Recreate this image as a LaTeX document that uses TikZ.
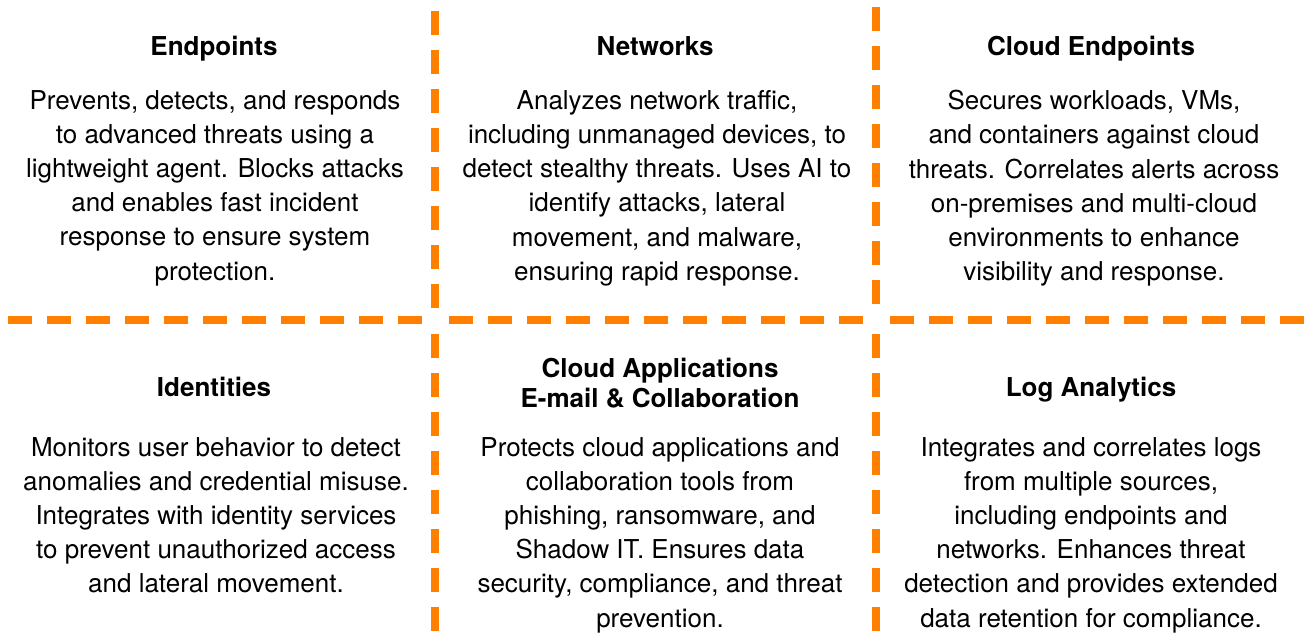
\documentclass[tikz,border=0pt]{standalone}
\usepackage{fontspec}
\setmainfont{TeX Gyre Heros}
\definecolor{divorange}{RGB}{255,127,0}
\tikzset{
  head/.style={font=\fontsize{26}{30}\selectfont\bfseries, align=center, anchor=base, inner sep=0pt},
  body/.style={font=\fontsize{26}{34.2}\selectfont, align=center, anchor=north, inner sep=0pt},
  divider/.style={draw=divorange, line width=8pt, dash pattern=on 24pt off 15pt}
}
\begin{document}
\begin{tikzpicture}[x=1pt, y=-1pt]
		\useasboundingbox (0,0) rectangle (1306,633);

		% dividers
		\draw[divider] (435,11) -- (435,308);
		\draw[divider] (435,334) -- (435,631);
		\draw[divider] (876,7) -- (876,304);
		\draw[divider] (876,334) -- (876,631);
		\draw[divider] (8,320) -- (422,320);
		\draw[divider] (449,320) -- (863,320);
		\draw[divider] (890,320) -- (1304,320);

		% top row
		\node[head] (endp) at (214,55) {Endpoints};
		\node[body] (endptxt) at (215,90) {Prevents, detects, and responds\\to advanced threats using a\\lightweight agent. Blocks attacks\\and enables fast incident\\response to ensure system\\protection.};
		\node[head] (netw) at (655,55) {Networks};
		\node[body] (netwtxt) at (657,90) {Analyzes network traffic,\\including unmanaged devices, to\\detect stealthy threats. Uses AI to\\identify attacks, lateral\\movement, and malware,\\ensuring rapid response.};
		\node[head] (cloudep) at (1091,55) {Cloud Endpoints};
		\node[body] (cloudeptxt) at (1094,90) {Secures workloads, VMs,\\and containers against cloud\\threats. Correlates alerts across\\on-premises and multi-cloud\\environments to enhance\\visibility and response.};

		% bottom row
		\node[head] (ident) at (214,396) {Identities};
		\node[body] (identtxt) at (216,437) {Monitors user behavior to detect\\anomalies and credential misuse.\\Integrates with identity services\\to prevent unauthorized access\\and lateral movement.};
		\node[head] (cloudapp) at (660,407) {Cloud Applications\\E-mail \& Collaboration};
		\node[body] (cloudapptxt) at (660,437) {Protects cloud applications and\\collaboration tools from\\phishing, ransomware, and\\Shadow IT. Ensures data\\security, compliance, and threat\\prevention.};
		\node[head] (loga) at (1091,396) {Log Analytics};
		\node[body] (logatxt) at (1091,437) {Integrates and correlates logs\\from multiple sources,\\including endpoints and\\networks. Enhances threat\\detection and provides extended\\data retention for compliance.};
	       \end{tikzpicture}
\end{document}
